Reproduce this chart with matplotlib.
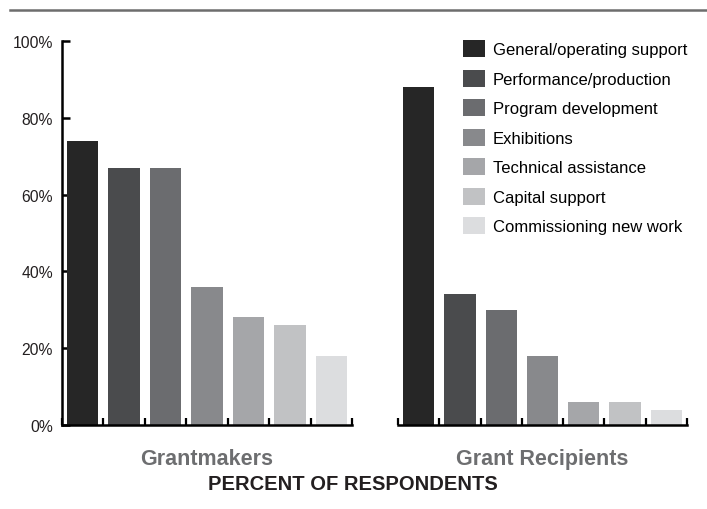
import matplotlib
matplotlib.use("Agg")
import matplotlib.pyplot as plt
from matplotlib.patches import Patch
from matplotlib.lines import Line2D

plt.rcParams['font.family'] = ['Liberation Sans', 'DejaVu Sans']

categories = ["General/operating support", "Performance/production", "Program development",
              "Exhibitions", "Technical assistance", "Capital support", "Commissioning new work"]
grantmakers = [74, 67, 67, 36, 28, 26, 18]
recipients = [88, 34, 30, 18, 6, 6, 4]
groups = ["Grantmakers", "Grant Recipients"]
yticks = [0, 20, 40, 60, 80, 100]
ytick_labels = ["0%", "20%", "40%", "60%", "80%", "100%"]
colors = ["#262626", "#4a4b4d", "#6b6c6f", "#88898c", "#a5a6a9", "#c1c2c4", "#dcdddf"]

W, H = 707, 510
fig = plt.figure(figsize=(W / 100, H / 100), dpi=100)

def rect(x0, x1, y0, y1):
    return [x0 / W, 1 - y1 / H, (x1 - x0) / W, (y1 - y0) / H]

ax1 = fig.add_axes(rect(62, 352, 42, 426))
ax2 = fig.add_axes(rect(398, 687, 42, 426))

x = list(range(len(categories)))
for ax, vals, name in [(ax1, grantmakers, groups[0]), (ax2, recipients, groups[1])]:
    ax.bar(x, vals, width=0.76, color=colors, zorder=2)
    ax.set_xlim(-0.5, len(categories) - 0.5)
    ax.set_ylim(0, 100)
    for s in ["top", "right"]:
        ax.spines[s].set_visible(False)
    ax.spines["bottom"].set_linewidth(1.8)
    ax.spines["left"].set_linewidth(1.8)
    ax.set_xticks([i - 0.5 for i in range(len(categories) + 1)])
    ax.set_xticklabels([])
    ax.tick_params(axis="x", direction="in", length=5, width=1.6, color="black")
    ax.set_xlabel(name, fontsize=15.5, fontweight="bold", color="#6d6e70", labelpad=13)
    ax.set_facecolor("none")

ax1.set_yticks(yticks)
ax1.set_yticklabels(ytick_labels, fontsize=11.3, color="#231f20")
ax1.tick_params(axis="y", direction="in", length=6, width=1.8, pad=6.5)
ax2.spines["left"].set_visible(False)
ax2.set_yticks([])

handles = [Patch(facecolor=c, edgecolor="none") for c in colors]
fig.legend(handles, categories, loc="upper left", bbox_to_anchor=(463 / W, 1 - 41 / H),
           frameon=False, fontsize=12, handlelength=1.32, handleheight=1.2,
           labelspacing=0.74, handletextpad=0.48, borderaxespad=0, borderpad=0)

fig.text(353 / W, 1 - 485 / H, "PERCENT OF RESPONDENTS", ha="center", va="center",
         fontsize=14.5, fontweight="bold", color="#231f20")

fig.add_artist(Line2D([10 / W, 1], [1 - 10.5 / H, 1 - 10.5 / H], transform=fig.transFigure,
                      color="#6d6d6d", linewidth=1.8))

fig.savefig("out.png", dpi=100)
